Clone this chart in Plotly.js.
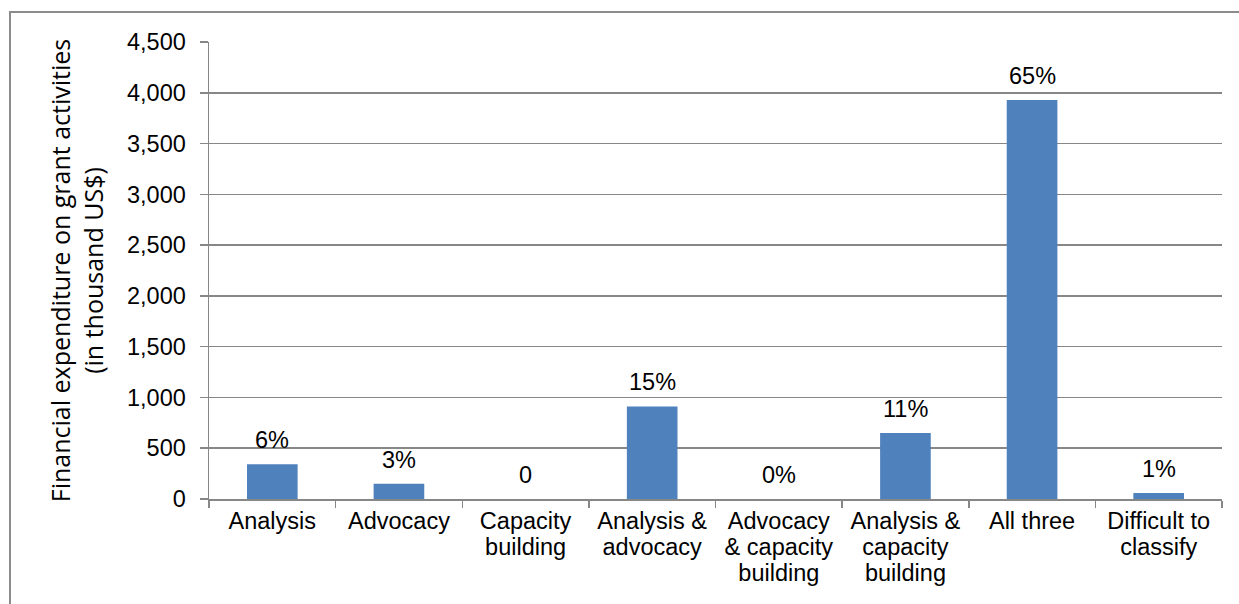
<!DOCTYPE html>
<html>
<head>
<meta charset="utf-8">
<script src="https://cdn.plot.ly/plotly-3.0.1.min.js"></script>
<style>
  html, body { margin: 0; padding: 0; background: #fff; }
  #frame { position: absolute; left: 9px; top: 11px; width: 1240px; height: 600px; border-left: 2px solid #8c8c8c; border-top: 2px solid #8c8c8c; }
  #chart { position: absolute; left: 0; top: 0; width: 1239px; height: 604px; }
</style>
</head>
<body>
<div id="frame"></div>
<div id="chart"></div>
<script>
const categories = [
  "Analysis",
  "Advocacy",
  "Capacity<br>building",
  "Analysis &<br>advocacy",
  "Advocacy<br>& capacity<br>building",
  "Analysis &<br>capacity<br>building",
  "All three",
  "Difficult to<br>classify"
];
const expenditure = [342, 150, 0, 912, 0, 650, 3930, 58];
const shareLabels = ["6%", "3%", "0", "15%", "0%", "11%", "65%", "1%"];
const yTickVals = [0, 500, 1000, 1500, 2000, 2500, 3000, 3500, 4000, 4500];
const yTickText = ["0", "500", "1,000", "1,500", "2,000", "2,500", "3,000", "3,500", "4,000", "4,500"];

const gridColor = "#878787";
const labelFont = { family: "Liberation Sans, Arial, sans-serif", size: 23.5, color: "#000" };

const trace = {
  type: "bar",
  x: categories,
  y: expenditure,
  marker: { color: "#4f81bd", line: { width: 0 } },
  hoverinfo: "skip"
};

const annotations = categories.map((c, i) => ({
  x: c, y: expenditure[i], xref: "x", yref: "y",
  text: shareLabels[i], showarrow: false,
  yanchor: "bottom", yshift: 9,
  font: labelFont
}));

const layout = {
  width: 1239, height: 604,
  margin: { l: 209, r: 17, t: 42, b: 105, pad: 0 },
  paper_bgcolor: "rgba(0,0,0,0)",
  plot_bgcolor: "rgba(0,0,0,0)",
  bargap: 0.6,
  showlegend: false,
  xaxis: {
    type: "category",
    tickson: "boundaries",
    ticks: "outside", ticklen: 7, tickwidth: 1.5, tickcolor: gridColor,
    showline: true, linecolor: gridColor, linewidth: 1.5,
    showgrid: false,
    tickfont: labelFont,
    tickangle: 0,
    automargin: false
  },
  yaxis: {
    range: [0, 4500],
    tickvals: yTickVals, ticktext: yTickText,
    ticks: "outside", ticklen: 8, tickwidth: 1.5, tickcolor: gridColor,
    ticklabelstandoff: 9,
    showline: true, linecolor: gridColor, linewidth: 1.5,
    showgrid: true, gridcolor: gridColor, gridwidth: 1.5,
    zeroline: false,
    tickfont: labelFont,
    title: {
      text: "Financial expenditure on grant activities<br>(in thousand US$)",
      font: { family: "Open Sans, Noto Sans, sans-serif", size: 25, color: "#000" },
      standoff: 16
    },
    automargin: false
  },
  annotations: annotations
};

Plotly.newPlot("chart", [trace], layout, { staticPlot: true, displayModeBar: false }).then(gd => {
  // tighten multi-line category labels to the reference's line spacing
  gd.querySelectorAll(".xtick text tspan.line").forEach(t => {
    const dy = parseFloat(t.getAttribute("dy") || "0");
    if (dy) t.setAttribute("dy", (dy / 1.3 * 1.12).toFixed(3) + "em");
  });
});
</script>
</body>
</html>
